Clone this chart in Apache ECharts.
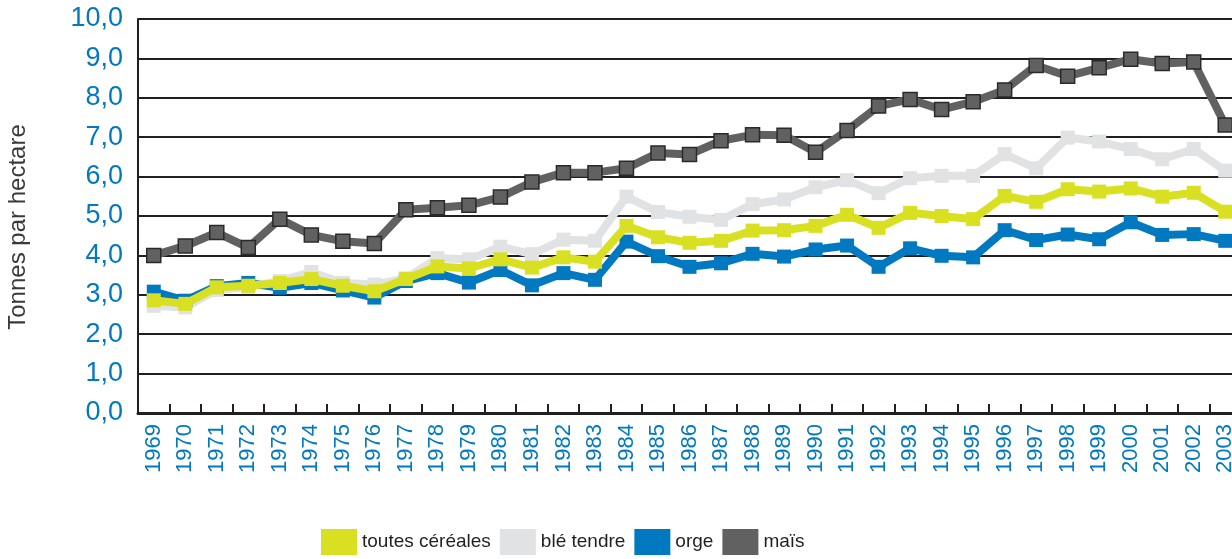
<!DOCTYPE html>
<html>
<head>
<meta charset="utf-8">
<script src="https://cdn.jsdelivr.net/npm/echarts@6/dist/echarts.min.js"></script>
<style>
  html, body { margin: 0; padding: 0; background: #fff; overflow: hidden; }
  #main { width: 1241px; height: 559px; }
</style>
</head>
<body>
<div id="main"></div>
<script>
// années
var years = ['1969','1970','1971','1972','1973','1974','1975','1976','1977','1978',
  '1979','1980','1981','1982','1983','1984','1985','1986','1987','1988',
  '1989','1990','1991','1992','1993','1994','1995','1996','1997','1998',
  '1999','2000','2001','2002','2003'];

// rendements (t/ha)
var toutesCereales = [2.86, 2.77, 3.19, 3.23, 3.3, 3.4, 3.23, 3.09, 3.4, 3.72,
  3.67, 3.9, 3.69, 3.95, 3.84, 4.75, 4.46, 4.32, 4.37, 4.63,
  4.64, 4.75, 5.03, 4.7, 5.08, 5.0, 4.92, 5.51, 5.36, 5.68,
  5.62, 5.7, 5.49, 5.59, 5.11];
var bleTendre = [2.72, 2.68, 3.12, 3.2, 3.35, 3.58, 3.3, 3.26, 3.42, 3.93,
  3.9, 4.22, 4.03, 4.4, 4.37, 5.49, 5.1, 4.98, 4.9, 5.3,
  5.42, 5.73, 5.91, 5.58, 5.96, 6.02, 6.02, 6.57, 6.21, 6.99,
  6.89, 6.7, 6.44, 6.7, 6.15];
var orge = [3.08, 2.85, 3.22, 3.3, 3.18, 3.3, 3.11, 2.93, 3.35, 3.55,
  3.31, 3.63, 3.24, 3.55, 3.38, 4.35, 3.98, 3.71, 3.8, 4.04,
  3.97, 4.15, 4.25, 3.71, 4.18, 3.99, 3.95, 4.64, 4.39, 4.53,
  4.41, 4.84, 4.52, 4.54, 4.37];
var mais = [4.0, 4.24, 4.58, 4.2, 4.92, 4.52, 4.36, 4.3, 5.16, 5.21,
  5.27, 5.48, 5.86, 6.1, 6.1, 6.21, 6.6, 6.56, 6.91, 7.06,
  7.05, 6.62, 7.17, 7.79, 7.96, 7.7, 7.9, 8.2, 8.82, 8.55,
  8.76, 8.98, 8.87, 8.91, 7.31];

var FONT = '"Liberation Sans", Arial, sans-serif';

var chart = echarts.init(document.getElementById('main'));

function serie(name, data, color, z, border) {
  return {
    name: name,
    type: 'line',
    data: data,
    z: z,
    symbol: 'rect',
    symbolSize: 14,
    showAllSymbol: true,
    lineStyle: { color: color, width: 8 },
    itemStyle: {
      color: color,
      borderColor: border || color,
      borderWidth: border ? 1.5 : 0
    },
    emphasis: { disabled: true }
  };
}

chart.setOption({
  animation: false,
  // le graphique dépasse à droite, comme dans l'original
  grid: { left: 138, right: 0, top: 19, bottom: 146 },
  legend: {
    bottom: 4,
    left: 321,
    padding: 0,
    itemWidth: 36,
    itemHeight: 26,
    itemGap: 9,
    icon: 'rect',
    itemStyle: { borderWidth: 0 },
    textStyle: { fontFamily: FONT, fontSize: 19, color: '#231f20' },
    data: ['toutes céréales', 'blé tendre', 'orge', 'maïs']
  },
  graphic: [{
    type: 'text',
    x: 18,
    y: 227,
    rotation: Math.PI / 2,
    style: {
      text: 'Tonnes par hectare',
      fontFamily: FONT,
      fontSize: 24,
      fill: '#3a3a3a',
      align: 'center',
      verticalAlign: 'middle'
    }
  }],
  xAxis: {
    type: 'category',
    data: years,
    boundaryGap: true,
    axisLine: { lineStyle: { color: '#231f20', width: 3 } },
    axisTick: { show: true, inside: true, length: 9, lineStyle: { color: '#231f20', width: 2 } },
    axisLabel: {
      rotate: 90,
      interval: 0,
      margin: 11,
      color: '#0079c1',
      fontFamily: FONT,
      fontSize: 22
    },
    splitLine: { show: false }
  },
  yAxis: {
    type: 'value',
    min: 0,
    max: 10,
    interval: 1,
    axisLine: { show: true, lineStyle: { color: '#231f20', width: 2 } },
    axisTick: { show: false },
    axisLabel: {
      margin: 15,
      color: '#0079c1',
      fontFamily: FONT,
      fontSize: 27,
      formatter: function (v) { return v.toFixed(1).replace('.', ','); }
    },
    splitLine: { lineStyle: { color: '#231f20', width: 2 } }
  },
  series: [
    serie('toutes céréales', toutesCereales, '#d9e021', 6),
    serie('blé tendre', bleTendre, '#e1e2e3', 3),
    serie('orge', orge, '#0079c1', 4),
    serie('maïs', mais, '#616161', 3, '#2a2a2a')
  ]
});
</script>
</body>
</html>
